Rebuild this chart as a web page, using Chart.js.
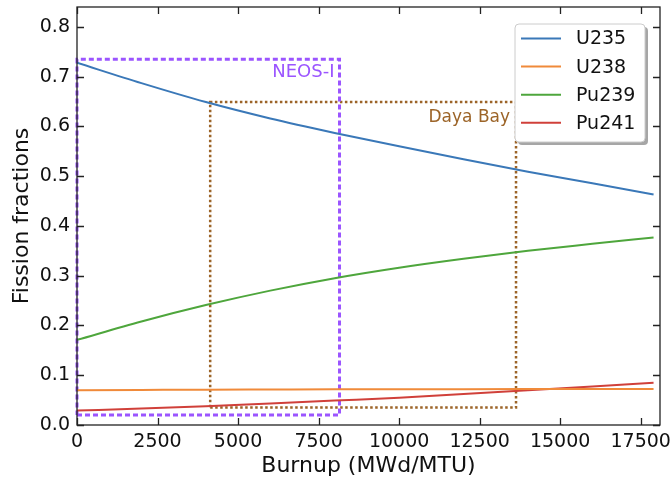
<!DOCTYPE html>
<html>
<head>
    <script src="https://cdn.jsdelivr.net/npm/chart.js@4.4.1/dist/chart.umd.min.js"></script>
    <style>
        body { margin: 0; background: #fff; }
        #wrap { width: 671px; height: 479px; }
    </style>
</head>
<body>
    <div id="wrap">
        <canvas id="myChart"></canvas>
    </div>

    <script type="text/javascript">
        // burnup points (MWd/MTU) and fission fractions
        const burnup = [0, 2000, 4000, 6000, 8000, 10000, 12000, 14000, 16000, 17900];
        const u235  = [0.728, 0.687, 0.649, 0.616, 0.587, 0.560, 0.534, 0.509, 0.486, 0.463];
        const u238  = [0.070, 0.0705, 0.071, 0.0713, 0.0716, 0.0718, 0.072, 0.0721, 0.0722, 0.0723];
        const pu239 = [0.171, 0.208, 0.241, 0.270, 0.295, 0.316, 0.334, 0.350, 0.364, 0.377];
        const pu241 = [0.029, 0.033, 0.0375, 0.043, 0.049, 0.055, 0.0625, 0.070, 0.0775, 0.085];

        // experiment ranges: [start, end] burnup and [low, high] fraction
        const neosX = [0, 8150];
        const neosY = [0.02, 0.735];
        const dayaX = [4135, 13630];
        const dayaY = [0.035, 0.649];

        const xTicks = [0, 2500, 5000, 7500, 10000, 12500, 15000, 17500];
        const yTicks = [0.0, 0.1, 0.2, 0.3, 0.4, 0.5, 0.6, 0.7, 0.8];

        const FONT = "'DejaVu Sans', sans-serif";

        function pts(ys) {
            return burnup.map((b, i) => ({ x: b, y: ys[i] }));
        }
        function boxPts(xs, ys) {
            return [
                { x: xs[0], y: ys[0] }, { x: xs[1], y: ys[0] },
                { x: xs[1], y: ys[1] }, { x: xs[0], y: ys[1] },
                { x: xs[0], y: ys[0] }
            ];
        }

        const series = [
            { label: 'U235', data: pts(u235), color: '#3a78b8' },
            { label: 'U238', data: pts(u238), color: '#f08a3a' },
            { label: 'Pu239', data: pts(pu239), color: '#4ea63c' },
            { label: 'Pu241', data: pts(pu241), color: '#d0403a' }
        ];

        const datasets = [
            {
                label: 'NEOS-I', data: boxPts(neosX, neosY),
                borderColor: '#9b55ff', borderWidth: 3, borderDash: [5, 3],
                pointRadius: 0, tension: 0, clip: false, order: 2
            },
            {
                label: 'Daya Bay', data: boxPts(dayaX, dayaY),
                borderColor: '#9c6428', borderWidth: 2.5, borderDash: [2.5, 2.5],
                pointRadius: 0, tension: 0, clip: false, order: 2
            }
        ];
        series.forEach(s => datasets.push({
            label: s.label, data: s.data,
            borderColor: s.color, backgroundColor: s.color,
            borderWidth: 2, pointRadius: 0,
            cubicInterpolationMode: 'monotone', order: 1
        }));

        // frame, inward ticks, box labels and legend, drawn like matplotlib
        const decor = {
            id: 'decor',
            afterDraw(chart) {
                const ctx = chart.ctx;
                const a = chart.chartArea;
                const xs = chart.scales.x, ys = chart.scales.y;
                ctx.save();
                ctx.strokeStyle = '#222';
                ctx.lineWidth = 1.3;
                ctx.strokeRect(a.left, a.top, a.right - a.left, a.bottom - a.top);
                ctx.beginPath();
                xTicks.forEach(v => {
                    const px = Math.round(xs.getPixelForValue(v)) + 0.5;
                    ctx.moveTo(px, a.bottom); ctx.lineTo(px, a.bottom - 7);
                    ctx.moveTo(px, a.top); ctx.lineTo(px, a.top + 7);
                });
                yTicks.forEach(v => {
                    const py = Math.round(ys.getPixelForValue(v)) + 0.5;
                    ctx.moveTo(a.left, py); ctx.lineTo(a.left + 7, py);
                    ctx.moveTo(a.right, py); ctx.lineTo(a.right - 7, py);
                });
                ctx.stroke();

                // box labels
                ctx.textAlign = 'right';
                ctx.textBaseline = 'alphabetic';
                ctx.font = '18px ' + FONT;
                ctx.fillStyle = '#9b55ff';
                ctx.fillText('NEOS-I', xs.getPixelForValue(neosX[1]) - 5, ys.getPixelForValue(neosY[1]) + 18);
                ctx.font = '17px ' + FONT;
                ctx.fillStyle = '#9c6428';
                ctx.fillText('Daya Bay', xs.getPixelForValue(dayaX[1]) - 6, ys.getPixelForValue(dayaY[1]) + 20);

                // legend
                const lx = 515, ly = 24, lw = 130, lh = 118;
                ctx.fillStyle = 'rgba(0,0,0,0.35)';
                roundRect(ctx, lx + 3, ly + 3, lw, lh, 4); ctx.fill();
                ctx.fillStyle = '#fff';
                roundRect(ctx, lx, ly, lw, lh, 4); ctx.fill();
                ctx.strokeStyle = '#ccc';
                ctx.lineWidth = 1;
                roundRect(ctx, lx, ly, lw, lh, 4); ctx.stroke();
                ctx.font = '19px ' + FONT;
                ctx.textAlign = 'left';
                ctx.textBaseline = 'middle';
                series.forEach((s, i) => {
                    const y = ly + 14.5 + i * 28.1;
                    ctx.strokeStyle = s.color;
                    ctx.lineWidth = 2;
                    ctx.beginPath();
                    ctx.moveTo(lx + 6, y); ctx.lineTo(lx + 46, y);
                    ctx.stroke();
                    ctx.fillStyle = '#111';
                    ctx.fillText(s.label, lx + 61, y + 1);
                });
                ctx.restore();
            }
        };

        function roundRect(ctx, x, y, w, h, r) {
            ctx.beginPath();
            ctx.moveTo(x + r, y);
            ctx.arcTo(x + w, y, x + w, y + h, r);
            ctx.arcTo(x + w, y + h, x, y + h, r);
            ctx.arcTo(x, y + h, x, y, r);
            ctx.arcTo(x, y, x + w, y, r);
            ctx.closePath();
        }

        function noPad(s) {
            s.paddingTop = 0; s.paddingBottom = 0;
            s.paddingLeft = 0; s.paddingRight = 0;
        }

        const config = {
            type: 'line',
            data: { datasets: datasets },
            plugins: [decor],
            options: {
                responsive: false,
                animation: false,
                devicePixelRatio: 1,
                layout: { padding: { top: 7, right: 11, left: 0, bottom: 0 } },
                plugins: {
                    legend: { display: false },
                    tooltip: { enabled: false }
                },
                scales: {
                    x: {
                        type: 'linear',
                        min: 0, max: 18100,
                        border: { display: false },
                        grid: { display: false, drawTicks: false },
                        afterFit: s => { s.height = 54; noPad(s); },
                        afterBuildTicks: s => { s.ticks = xTicks.map(v => ({ value: v })); },
                        ticks: {
                            padding: 6,
                            maxRotation: 0,
                            autoSkip: false,
                            color: '#111',
                            font: { family: FONT, size: 19 },
                            callback: v => String(v)
                        },
                        title: {
                            display: true,
                            text: 'Burnup (MWd/MTU)',
                            color: '#111',
                            font: { family: FONT, size: 22 },
                            padding: { top: 0, bottom: 0 }
                        }
                    },
                    y: {
                        min: 0, max: 0.84,
                        border: { display: false },
                        grid: { display: false, drawTicks: false },
                        afterFit: s => { s.width = 77; noPad(s); },
                        afterBuildTicks: s => { s.ticks = yTicks.map(v => ({ value: v })); },
                        ticks: {
                            padding: 7,
                            autoSkip: false,
                            color: '#111',
                            font: { family: FONT, size: 19 },
                            callback: v => v.toFixed(1)
                        },
                        title: {
                            display: true,
                            text: 'Fission fractions',
                            color: '#111',
                            font: { family: FONT, size: 22 },
                            padding: { top: 9, bottom: 0 }
                        }
                    }
                }
            }
        };

        const canvas = document.getElementById('myChart');
        canvas.width = 671;
        canvas.height = 479;
        const chart = new Chart(canvas, config);
    </script>
</body>
</html>
